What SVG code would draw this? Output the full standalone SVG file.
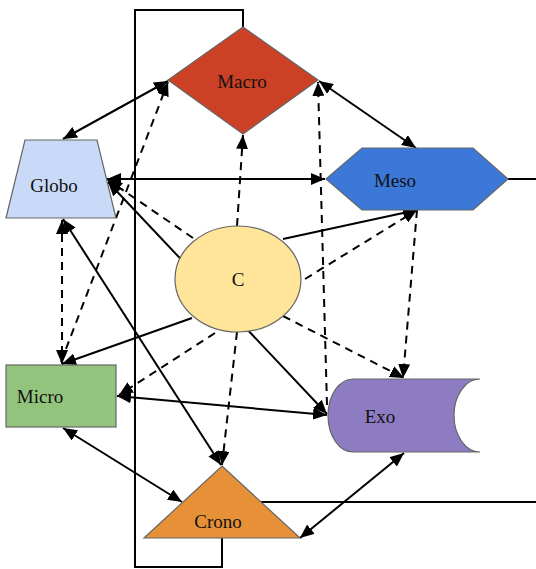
<svg xmlns="http://www.w3.org/2000/svg" width="536" height="569" viewBox="0 0 536 569">
<style>
.e{stroke:#000;stroke-width:2;fill:none}
.a{marker-end:url(#ah)}
.b{marker-start:url(#ah);marker-end:url(#ah)}
.d{stroke-dasharray:8,6}
.n{stroke:#666;stroke-width:1.2}
.t{font-family:"Liberation Serif","Times New Roman",serif;font-size:19px;fill:#111;text-anchor:middle}
</style>
<defs>
<marker id="ah" markerUnits="userSpaceOnUse" markerWidth="14" markerHeight="12" refX="14" refY="6" orient="auto-start-reverse">
<path d="M0,0 L14,6 L0,12 z" fill="#000"/>
</marker>
</defs>
<rect width="536" height="569" fill="#fff"/>
<g id="connectors">
<path class="e" d="M243,27 L243,10 L135,10 L135,567 L222,567 L222,538"/>
<path class="e" d="M508,179 L536,179"/>
<path class="e" d="M261,502 L536,502"/>
<line class="e b" x1="63" y1="139" x2="168" y2="81"/>
<line class="e b" x1="107" y1="179" x2="325" y2="179"/>
<line class="e b" x1="319" y1="81" x2="416" y2="148"/>
<line class="e b" x1="108" y1="182" x2="327" y2="414"/>
<line class="e b" x1="63" y1="219" x2="221" y2="465"/>
<line class="e a" x1="192" y1="318" x2="62" y2="364"/>
<line class="e a" x1="283" y1="239" x2="417" y2="210"/>
<line class="e b" x1="117" y1="396" x2="327" y2="415"/>
<line class="e b" x1="63" y1="428" x2="182" y2="502"/>
<line class="e b" x1="300" y1="538" x2="404" y2="453"/>
<line class="e d a" x1="237" y1="226" x2="243" y2="135"/>
<line class="e d a" x1="193" y1="238" x2="108" y2="180"/>
<line class="e d a" x1="61" y1="362" x2="168" y2="82"/>
<line class="e d b" x1="62" y1="220" x2="62" y2="364"/>
<line class="e d a" x1="215" y1="333" x2="119" y2="395"/>
<line class="e d a" x1="237" y1="332" x2="222" y2="465"/>
<line class="e d a" x1="283" y1="316" x2="404" y2="378"/>
<line class="e d a" x1="305" y1="279" x2="417" y2="210"/>
<line class="e d a" x1="417" y1="210" x2="403" y2="378"/>
<line class="e d a" x1="327" y1="405" x2="318" y2="82"/>
</g>
<g id="macro">
<polygon class="n" points="243,27 318,80 243,134 168,80" fill="#CC4125"/>
<text class="t" x="242" y="88">Macro</text>
</g>
<g id="meso">
<polygon class="n" points="326,179 362,148 473,148 508,179 473,210 362,210" fill="#3C78D8"/>
<text class="t" x="395" y="187">Meso</text>
</g>
<g id="globo">
<polygon class="n" points="25,140 97,140 116,218 6,218" fill="#C9DAF8"/>
<text class="t" x="54" y="192">Globo</text>
</g>
<g id="micro">
<rect class="n" x="6" y="365" width="110" height="62" fill="#93C47D"/>
<text class="t" x="40" y="403">Micro</text>
</g>
<g id="exo">
<path class="n" d="M353,379 L480,379 A26,36.5 0 0 0 480,452 L353,452 A25,36.5 0 0 1 353,379 Z" fill="#8E7CC3"/>
<text class="t" x="380" y="423">Exo</text>
</g>
<g id="crono">
<polygon class="n" points="222,466 300,538 144,538" fill="#E69138"/>
<text class="t" x="218" y="528">Crono</text>
</g>
<g id="c">
<ellipse class="n" cx="238" cy="279" rx="63" ry="53" fill="#FFE599"/>
<text class="t" x="238" y="286">C</text>
</g>
</svg>
